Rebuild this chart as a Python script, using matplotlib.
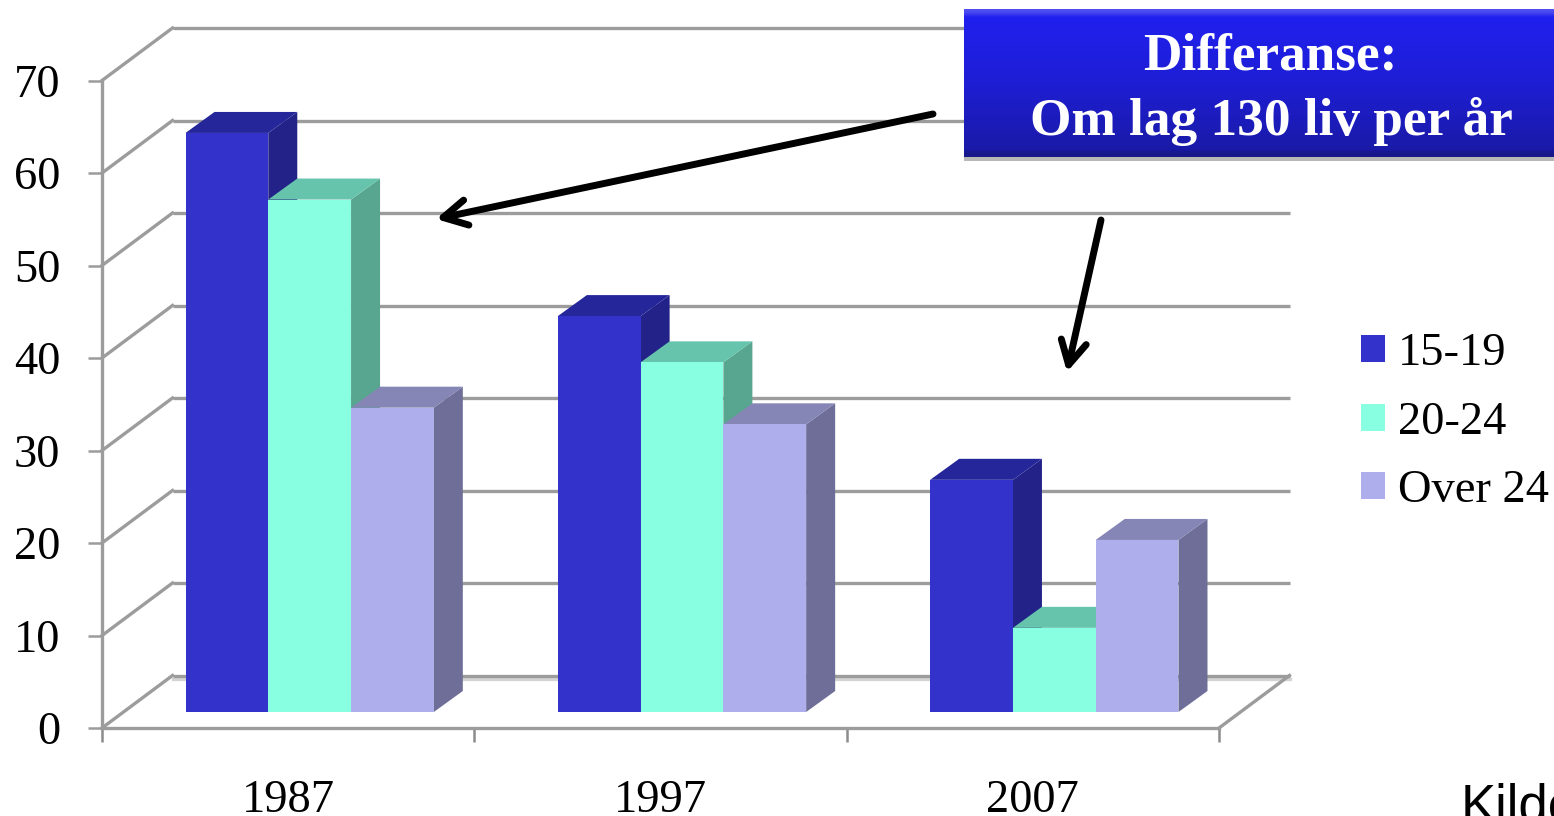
import numpy as np
import matplotlib
matplotlib.use("Agg")
import matplotlib.pyplot as plt
from matplotlib.patches import Polygon, Rectangle
from matplotlib.transforms import Affine2D, IdentityTransform

plt.rcParams['font.family'] = ['Liberation Serif', 'DejaVu Serif']

# Chart data
years = ['1987', '1997', '2007']
age_groups = ['15-19', '20-24', 'Over 24']
values_15_19 = [62.6, 42.8, 25.1]
values_20_24 = [55.4, 37.8, 9.1]
values_over_24 = [32.9, 31.1, 18.6]
y_ticks = [0, 10, 20, 30, 40, 50, 60, 70]

series = [values_15_19, values_20_24, values_over_24]
front_colors = ['#3333CC', '#89FFE1', '#AEAEEC']
side_colors = ['#222288', '#58A690', '#6E6E99']
top_colors = ['#26269B', '#66C4AD', '#8585B6']

W, H = 1554, 816
fig = plt.figure(figsize=(W / 100, H / 100), dpi=100, facecolor='white')

# Front plane of the chart box, in pixel fractions of the figure
left, right, y0, y70 = 102, 1219, 728, 80.5
ax = fig.add_axes([left / W, 1 - y0 / H, (right - left) / W, (y0 - y70) / H])
ax.set_xlim(0, 3)
ax.set_ylim(0, 70)
ax.patch.set_alpha(0)

GRID = '#9C9C9C'
WALL_DX, WALL_DY = 70.5, 52.5      # oblique offset of the back wall
FRONT_DX, FRONT_DY = 21.5, 16      # bar front face, measured from the front plane
BAR_DX, BAR_DY = 29, 21            # extrusion depth of each bar
BAR_W = 0.2223


def project(x, v, dx=0, dy=0):
    px, py = ax.transData.transform((x, v))
    return (px + dx, py + dy)


# Back wall gridlines and the slanted lines on the side wall
wall = ax.transData + Affine2D().translate(WALL_DX, WALL_DY)
for v in y_ticks:
    ax.plot([0, 3], [v, v], transform=wall, color=GRID, lw=2.4, clip_on=False,
            zorder=1, solid_capstyle='butt')
    a, b = project(0, v), project(0, v, WALL_DX, WALL_DY)
    ax.plot([a[0], b[0]], [a[1], b[1]], transform=IdentityTransform(), color=GRID,
            lw=2.4, clip_on=False, zorder=1)
ax.plot([0, 3], [0, 0], transform=wall + Affine2D().translate(0, -3), color='#D4D4D4',
        lw=2.4, clip_on=False, zorder=0.9)
a, b = project(3, 0), project(3, 0, WALL_DX, WALL_DY)
ax.plot([a[0], b[0]], [a[1], b[1]], transform=IdentityTransform(), color=GRID,
        lw=2.4, clip_on=False, zorder=1)

# Extruded bars: side and top faces first, then the front, left to right
z = 3.0
front_offset = ax.transData + Affine2D().translate(FRONT_DX, FRONT_DY)
for g in range(len(years)):
    group_left = g + 0.5 - 1.5 * BAR_W
    for s, vals in enumerate(series):
        x0, x1, v = group_left + s * BAR_W, group_left + (s + 1) * BAR_W, vals[g]
        fd = (FRONT_DX, FRONT_DY)
        bd = (FRONT_DX + BAR_DX, FRONT_DY + BAR_DY)
        side = [project(x1, 0, *fd), project(x1, 0, *bd), project(x1, v, *bd), project(x1, v, *fd)]
        top = [project(x0, v, *fd), project(x0, v, *bd), project(x1, v, *bd), project(x1, v, *fd)]
        ax.add_patch(Polygon(side, closed=True, transform=IdentityTransform(), fc=side_colors[s],
                             ec='none', clip_on=False, zorder=z))
        ax.add_patch(Polygon(top, closed=True, transform=IdentityTransform(), fc=top_colors[s],
                             ec='none', clip_on=False, zorder=z + 0.1))
        ax.bar(x0, v, BAR_W, align='edge', color=front_colors[s], transform=front_offset,
               clip_on=False, zorder=z + 0.2, lw=0)
        z += 1
ax.set_xlim(0, 3)
ax.set_ylim(0, 70)

# Axes and ticks
for name in ('top', 'right'):
    ax.spines[name].set_visible(False)
for name in ('left', 'bottom'):
    ax.spines[name].set_color(GRID)
    ax.spines[name].set_linewidth(2.4)
ax.set_yticks(y_ticks)
ax.tick_params(axis='y', length=10, width=1.8, color=GRID, pad=20, labelsize=33.5, labelcolor='black')
ax.set_xticks([0, 1, 2, 3])
ax.set_xticklabels([])
ax.tick_params(axis='x', which='major', length=10, width=1.8, color='#8C8C8C')
ax.set_xticks([0.5, 1.5, 2.5], minor=True)
ax.set_xticklabels(years, minor=True)
ax.tick_params(axis='x', which='minor', length=0, pad=37, labelsize=33.5, labelcolor='black')

# Legend
handles = [Rectangle((0, 0), 1, 1, fc=c, ec='none') for c in front_colors]
fig.legend(handles, age_groups, loc='center left', bbox_to_anchor=(1361 / W, 1 - 422.5 / H),
           frameon=False, fontsize=33.5, handlelength=0.52, handleheight=0.52,
           handletextpad=0.28, labelspacing=0.56, borderpad=0, borderaxespad=0)

# Annotation layer in pixel coordinates
ov = fig.add_axes([0, 0, 1, 1], zorder=20)
ov.patch.set_alpha(0)

box_l, box_r, box_t, box_b = 964, 1560, 9, 157
ov.add_patch(Rectangle((box_l, box_t + 2), box_r - box_l, box_b - box_t + 2, fc='#999999',
                       ec='none', alpha=0.7, zorder=1))
stops = [0.0, 0.02, 0.05, 0.07, 0.5, 0.95, 0.97, 1.0]
red = [0x50, 0x48, 0x22, 0x20, 0x1E, 0x1A, 0x17, 0x17]
green = red
blue = [0xF0, 0xF0, 0xF0, 0xEE, 0xD4, 0xA8, 0x90, 0x88]
t = np.linspace(0, 1, 148)
grad = np.stack([np.interp(t, stops, red), np.interp(t, stops, green),
                 np.interp(t, stops, blue)], axis=1)[:, None, :] / 255
ov.imshow(grad, extent=(box_l, box_r, box_b, box_t), aspect='auto', zorder=2, interpolation='bilinear')
ov.set_xlim(0, W)
ov.set_ylim(H, 0)
ov.axis('off')
ov.text(1270, 56, 'Differanse:', color='white', fontsize=38.3, fontweight='bold',
        ha='center', va='center', zorder=3)
ov.text(1271, 121, 'Om lag 130 liv per år', color='white', fontsize=38.3, fontweight='bold',
        ha='center', va='center', zorder=3)

arrow_props = dict(arrowstyle='->,head_length=0.5,head_width=0.27', color='black', lw=5,
                   shrinkA=0, shrinkB=0, mutation_scale=34)
ov.annotate('', xy=(436, 219), xytext=(933, 114), arrowprops=arrow_props, zorder=4)
ov.annotate('', xy=(1067, 372), xytext=(1101, 220), arrowprops=arrow_props, zorder=4)

ov.text(1461, 821, 'Kilde', family=['Liberation Sans', 'DejaVu Sans'], fontsize=38,
        color='black', ha='left', va='baseline', zorder=4, clip_on=False)

fig.savefig('out.png', dpi=100, facecolor='white')
